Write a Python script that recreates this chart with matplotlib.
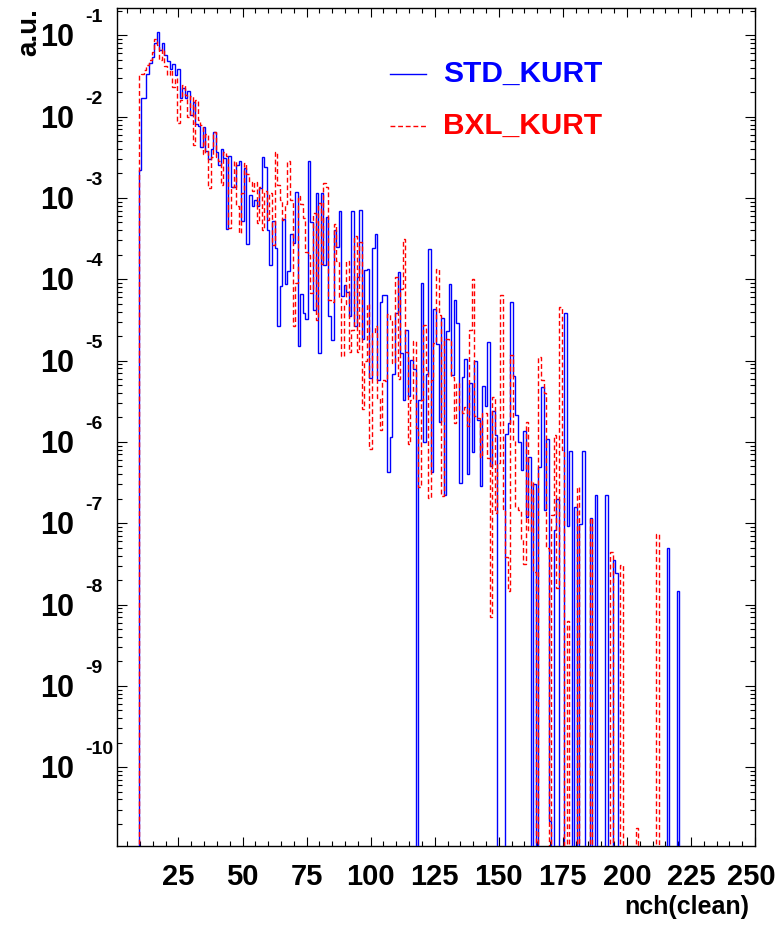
import numpy as np
import matplotlib
matplotlib.use("Agg")
import matplotlib.pyplot as plt
from matplotlib import transforms as mtrans
from matplotlib.ticker import FixedLocator, NullFormatter

# ---------------- data (log10 of bin content, None = empty bin) -------------
first_bin = 10  # bins of width 1 centred on integers

std_log10 = [
    -2.66, -1.77, -1.77, -1.47, -1.34, -1.27, -1.10, -0.96, -1.18, -1.10,   # 10-19
    -1.24, -1.32, -1.41, -1.35, -1.49, -1.41, -1.77, -1.65, -1.77, -1.68,   # 20-29
    -1.98, -1.82, -2.09, -2.12, -2.37, -2.13, -2.42, -2.52, -2.40, -2.19,   # 30-39
    -2.43, -2.60, -2.40, -2.51, -3.38, -2.48, -2.87, -2.87, -2.60, -2.55,   # 40-49
    -3.28, -2.63, -3.57, -2.96, -3.10, -3.03, -3.10, -2.88, -2.50, -2.62,   # 50-59
    -3.39, -3.83, -3.28, -3.62, -4.58, -4.08, -3.26, -4.06, -3.90, -3.44,   # 60-69
    -3.55, -2.93, -4.82, -4.18, -4.42, -4.49, -2.54, -3.30, -4.38, -2.94,   # 70-79
    -4.91, -2.94, -3.82, -3.23, -4.45, -4.75, -3.39, -3.60, -3.16, -4.21,   # 80-89
    -4.07, -4.16, -4.45, -3.16, -4.58, -3.97, -3.15, -4.73, -3.89, -3.87,   # 90-99
    -5.22, -3.62, -3.44, -5.24, -4.28, -4.19, -4.19, -6.37, -5.94, -5.17,   # 100-109
    -4.42, -3.91, -4.91, -5.49, -4.62, -5.44, -4.99, -5.10, None, -5.49,    # 110-119
    -4.04, -6.00, -5.17, -3.63, -6.37, -4.36, -4.80, -5.75, -4.48, -6.65,   # 120-129
    -4.64, -4.06, -5.18, -4.26, -4.54, -6.51, -5.20, -4.98, -6.39, -5.27,   # 130-139
    -6.12, -5.01, -5.73, -6.54, -5.31, -5.56, -4.77, -6.30, -5.62, -5.92,   # 140-149
    None, None, None, -5.90, -5.77, -4.28, -5.19, -5.67, -6.00, -6.35,      # 150-159
    -5.87, -6.92, -6.18, None, -6.52, None, -6.31, -5.33, -6.84, -5.97,     # 160-169
    -10.66, None, -7.08, -6.70, None, None, -4.42, -7.04, -6.11, None,      # 170-179
    -6.80, None, -7.01, -6.11, None, None, -6.93, None, -6.65, None,        # 180-189
    None, None, -6.65, None, None, -7.45, -7.61, None, None, None,          # 190-199
    None, None, None, None, None, None, None, None, None, None,             # 200-209
    None, None, None, None, None, None, -7.31, None, None, None,            # 210-219
    -7.83, None, None, None, None, None,                                    # 220-225
]

bxl_log10 = [
    -1.49, -1.48, -1.43, -1.36, -1.30, -1.20, -1.05, -1.12, -1.30, -1.17,   # 10-19
    -1.38, -1.49, -1.43, -1.63, -1.53, -2.08, -1.80, -1.61, -1.73, -2.00,   # 20-29
    -1.75, -2.35, -1.79, -2.04, -2.10, -2.46, -2.21, -2.88, -2.50, -2.19,   # 30-39
    -2.50, -2.54, -2.84, -2.44, -2.49, -3.37, -2.86, -2.54, -3.10, -3.43,   # 40-49
    -2.94, -2.57, -2.71, -2.81, -2.92, -2.80, -3.31, -2.86, -3.39, -2.92,   # 50-59
    -3.27, -2.94, -3.58, -2.43, -2.84, -3.02, -3.27, -3.08, -2.55, -3.02,   # 60-69
    -4.58, -4.04, -2.98, -3.08, -3.25, -3.67, -3.70, -4.17, -3.19, -4.50,   # 70-79
    -3.06, -3.81, -2.82, -2.86, -4.25, -4.28, -3.32, -3.77, -4.23, -4.94,   # 80-89
    -4.30, -3.77, -4.89, -4.62, -3.47, -4.89, -3.54, -5.60, -5.01, -4.30,   # 90-99
    -6.09, -4.66, -4.58, -5.46, -5.85, -5.24, -5.25, -4.43, -4.51, -5.03,   # 100-109
    -3.97, -5.23, -4.12, -3.50, -4.90, -6.02, -5.49, -4.76, -5.83, -6.56,   # 110-119
    -5.49, -4.56, -5.12, -6.69, -5.24, -4.79, -3.88, -4.44, -6.67, -4.73,   # 120-129
    -4.73, -4.75, -5.20, -5.77, -5.28, -5.61, -5.65, -5.57, -5.80, -4.62,   # 130-139
    -4.00, -5.68, -5.71, -6.18, -5.65, -5.65, -6.20, -8.15, -5.45, -6.88,   # 140-149
    -6.26, -4.19, -6.82, -7.42, -7.84, -4.93, -5.99, -6.80, -6.84, -7.20,   # 150-159
    -7.50, -5.76, -7.10, -6.48, -7.60, None, -4.96, -5.24, -5.40, -7.30,    # 160-169
    None, -6.90, -5.92, -7.80, -4.34, -6.10, None, -8.20, None, None,       # 170-179
    None, -6.56, None, None, None, None, -6.93, None, None, None,           # 180-189
    None, None, None, None, -7.36, None, None, None, -7.52, None,           # 190-199
    None, None, None, None, -10.75, None, None, None, None, None,           # 200-209
    None, None, -7.13, None, None, None, None, None, None, None,            # 210-219
    None, None, None, None, None, None,                                     # 220-225
]

series_labels = ["STD_KURT", "BXL_KURT"]
series_colors = ["blue", "red"]
x_tick_values = [25, 50, 75, 100, 125, 150, 175, 200, 225, 250]
y_exponents = [-1, -2, -3, -4, -5, -6, -7, -8, -9, -10]
x_title = "nch(clean)"
y_title = "a.u."

# ---------------- figure -----------------------------------------------------
W, H = 776, 927
fig = plt.figure(figsize=(W / 100, H / 100), dpi=100)
ax = fig.add_axes([117 / W, 1 - 846 / H, (755 - 117) / W, (846 - 8) / H])

FONT = ["Liberation Sans", "DejaVu Sans"]
TINY = 1e-30


def to_values(lst):
    return np.array([10.0 ** v if v is not None else TINY for v in lst])


std_vals = to_values(std_log10)
bxl_vals = to_values(bxl_log10)
edges = np.arange(len(std_vals) + 1) + first_bin - 0.5

ax.set_yscale("log")
ax.stairs(std_vals, edges, baseline=TINY, color=series_colors[0], lw=1.0,
          zorder=3)
ax.stairs(bxl_vals, edges, baseline=TINY, color=series_colors[1], lw=1.0,
          linestyle=(0, (3.5, 2)), zorder=4)

ax.set_xlim(1, 250)
ax.set_ylim(10 ** -10.97, 10 ** -0.664)

# ticks
ax.xaxis.set_major_locator(FixedLocator(x_tick_values))
ax.xaxis.set_minor_locator(FixedLocator(np.arange(5, 251, 5)))
ax.yaxis.set_major_locator(FixedLocator([10.0 ** e for e in range(-11, 0)]))
minor_y = [m * 10.0 ** e for e in range(-12, 0) for m in range(2, 10)]
ax.yaxis.set_minor_locator(FixedLocator(minor_y))
ax.yaxis.set_major_formatter(NullFormatter())
ax.yaxis.set_minor_formatter(NullFormatter())
ax.tick_params(axis="both", which="both", direction="in", top=True, right=True,
               width=0.8, color="black")
ax.tick_params(axis="y", which="major", length=7.5)
ax.tick_params(axis="y", which="minor", length=3.8)
ax.tick_params(axis="x", which="major", length=6.5, pad=12)
ax.tick_params(axis="x", which="minor", length=3.8)
ax.set_xticks(x_tick_values)
ax.set_xticklabels([str(v) for v in x_tick_values], fontfamily=FONT,
                   fontweight="bold", fontsize=21)
# keep the last label ("250") inside the canvas, as in the reference
last = ax.get_xticklabels()[-1]
last.set_transform(last.get_transform() +
                   mtrans.ScaledTranslation(-4 / 100, 0, fig.dpi_scale_trans))
for s in ax.spines.values():
    s.set_linewidth(1.0)

# y tick labels, ROOT style "10" with raised exponent
ytrans = mtrans.blended_transform_factory(fig.transFigure, ax.transData)
for e in y_exponents:
    t_base = mtrans.offset_copy(ytrans, fig=fig, x=0, y=-11, units="dots")
    fig.text(74 / W, 10.0 ** e, "10", transform=t_base, ha="right",
             va="baseline", fontsize=22, fontweight="bold", fontfamily=FONT)
    t_exp = mtrans.offset_copy(ytrans, fig=fig, x=0, y=13, units="dots")
    fig.text(85 / W, 10.0 ** e, "-%d" % (-e), transform=t_exp, ha="left",
             va="baseline", fontsize=14, fontweight="bold", fontfamily=FONT)

# axis titles
fig.text(29 / W, 1 - 8 / H, y_title, rotation=90, ha="center", va="top",
         fontsize=20, fontweight="bold", fontfamily=FONT)
fig.text(749 / W, 1 - 907 / H, x_title, ha="right", va="center",
         fontsize=18, fontweight="bold", fontfamily=FONT)

# legend (ROOT TLegend style, no frame)
leg_y = [74, 126]
styles = ["-", (0, (3.5, 2))]
for lab, col, ly, ls in zip(series_labels, series_colors, leg_y, styles):
    fig.add_artist(plt.Line2D([390 / W, 426 / W], [1 - ly / H, 1 - ly / H],
                              transform=fig.transFigure, color=col, lw=1.0,
                              linestyle=ls))
    fig.text(443 / W, 1 - ly / H, lab, ha="left", va="center", color=col,
             fontsize=21.5, fontweight="bold", fontfamily=FONT)

fig.savefig("out.png", dpi=100)
